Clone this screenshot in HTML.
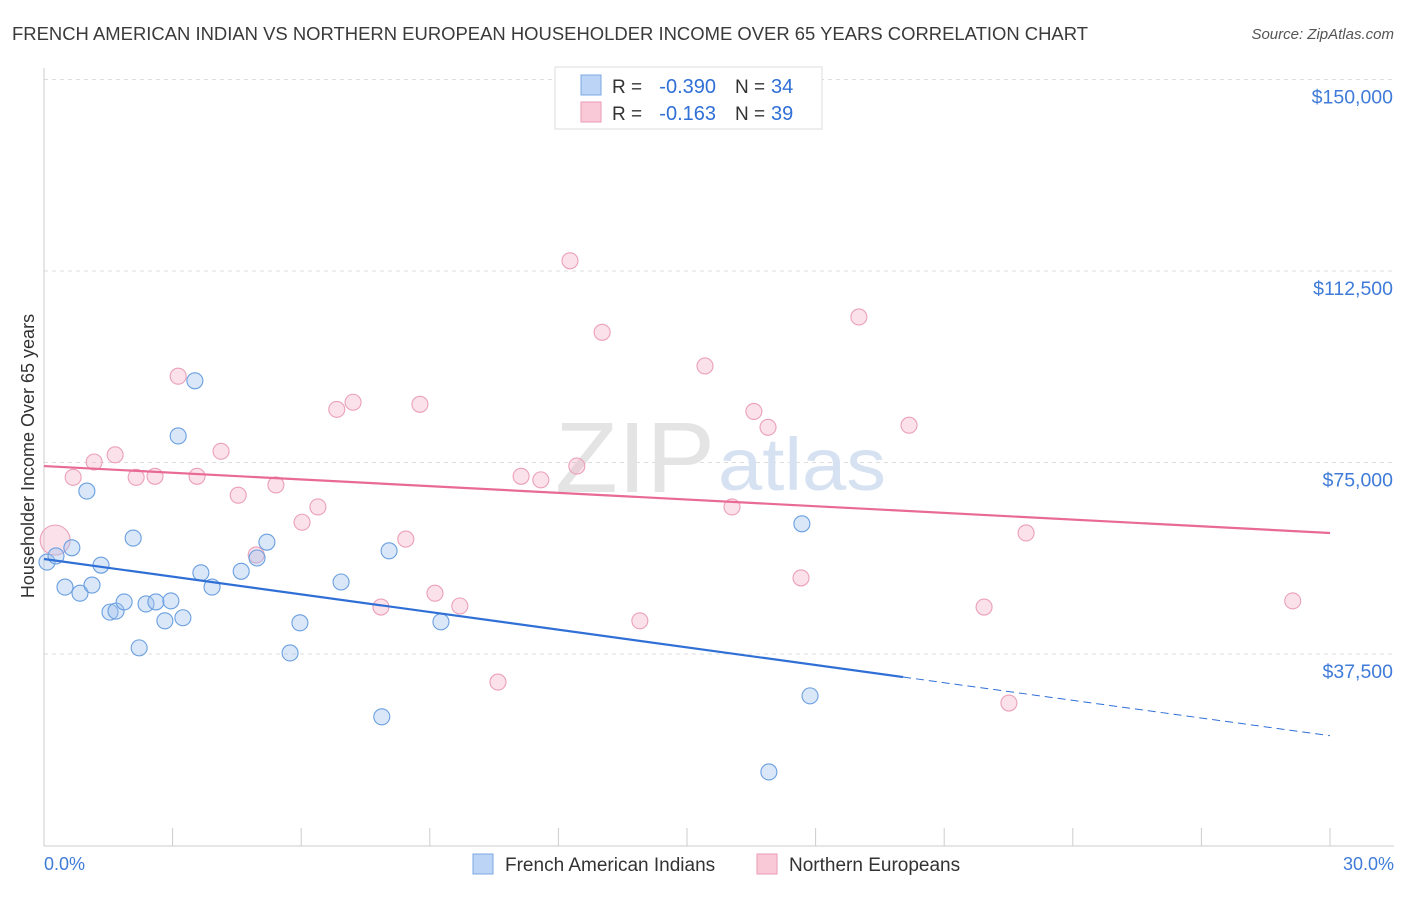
<!DOCTYPE html>
<html><head><meta charset="utf-8"><style>
body{margin:0;background:#fff;font-family:"Liberation Sans",sans-serif;}
svg text{font-family:"Liberation Sans",sans-serif;}
</style></head><body>
<svg width="1406" height="892" xmlns="http://www.w3.org/2000/svg">
<text x="12" y="40" font-size="18" textLength="1076" lengthAdjust="spacingAndGlyphs" fill="#3a3a3a">FRENCH AMERICAN INDIAN VS NORTHERN EUROPEAN HOUSEHOLDER INCOME OVER 65 YEARS CORRELATION CHART</text>
<text x="1394" y="39" font-size="15" fill="#555" font-style="italic" text-anchor="end">Source: ZipAtlas.com</text>
<g id="grid"></g>
<g id="axes"></g>
<text x="555" y="492" font-size="100" textLength="160" lengthAdjust="spacingAndGlyphs" fill="#e4e4e4" font-family="Liberation Serif">ZIP</text>
<text x="718" y="490" font-size="74" textLength="168" lengthAdjust="spacingAndGlyphs" fill="#d6e2f2">atlas</text>
<g id="pts"></g>
<g id="trend"></g>
<text transform="translate(34,456) rotate(-90)" font-size="18" fill="#333" text-anchor="middle">Householder Income Over 65 years</text>
<text x="44" y="870" font-size="18" fill="#3f7bd8">0.0%</text>
<text x="1394" y="870" font-size="18" fill="#3f7bd8" text-anchor="end">30.0%</text>
<g>
<rect x="555" y="67" width="267" height="62" fill="#fff" stroke="#ddd"/>
<rect x="581" y="75" width="20" height="20" fill="#bcd4f5" stroke="#7aa7e3"/>
<rect x="581" y="102" width="20" height="20" fill="#f9c9d8" stroke="#eb9ab5"/>
<text x="612" y="93" font-size="19" fill="#333">R =</text>
<text x="716" y="93" font-size="20" fill="#2f6fd6" text-anchor="end">-0.390</text>
<text x="735" y="93" font-size="19" fill="#333">N =</text>
<text x="771" y="93" font-size="20" fill="#2f6fd6">34</text>
<text x="612" y="120" font-size="19" fill="#333">R =</text>
<text x="716" y="120" font-size="20" fill="#2f6fd6" text-anchor="end">-0.163</text>
<text x="735" y="120" font-size="19" fill="#333">N =</text>
<text x="771" y="120" font-size="20" fill="#2f6fd6">39</text>
</g>
<g>
<rect x="473" y="854" width="20" height="20" fill="#bcd4f5" stroke="#7aa7e3"/>
<text x="505" y="871" font-size="19" fill="#333">French American Indians</text>
<rect x="757" y="854" width="20" height="20" fill="#f9c9d8" stroke="#eb9ab5"/>
<text x="789" y="871" font-size="19" fill="#333">Northern Europeans</text>
</g>
</svg>
<script>
const yTicks=[37500,75000,112500,150000];
const yTickLabels=["$37,500","$75,000","$112,500","$150,000"];
const blueX=[0.07,0.28,0.65,0.49,0.84,1.12,1.0,1.33,1.54,1.68,1.87,2.08,2.22,2.38,2.61,2.82,2.96,3.24,3.13,3.52,3.66,3.92,4.6,4.97,5.2,5.74,5.97,6.93,7.88,8.05,9.26,16.91,17.68,17.87];
const blueY=[55.5,56.7,58.3,50.6,49.4,51.0,69.4,54.9,45.7,45.9,47.7,60.2,38.7,47.3,47.7,44.0,47.9,44.6,80.2,91.0,53.4,50.6,53.7,56.3,59.4,37.7,43.6,51.6,25.2,57.7,43.8,14.4,63.0,29.3];
const pinkX=[0.26,0.68,1.17,1.66,2.15,2.59,3.13,3.57,4.13,4.53,4.95,5.41,6.02,6.39,6.83,7.21,7.86,8.44,8.77,9.12,9.7,10.59,11.13,11.59,12.27,12.43,13.02,13.9,15.42,16.05,16.56,16.89,17.66,19.01,20.18,21.93,22.51,22.91,29.13];
const pinkY=[59.8,72.1,75.1,76.5,72.1,72.3,91.9,72.3,77.2,68.6,56.9,70.6,63.3,66.3,85.4,86.8,46.7,60.0,86.4,49.4,46.9,32.0,72.3,71.6,114.5,74.3,100.5,44.0,93.9,66.3,85.0,81.9,52.4,103.5,82.3,46.7,27.9,61.2,47.9];
const blueTrend=[56.1,21.5], blueSolidEnd=20.04;
const pinkTrend=[74.3,61.2];
const NS="http://www.w3.org/2000/svg";
const X=p=>44+p*(1286/30);
const Y=v=>845.5-v*(191.5/37500);
const Yk=v=>Y(v*1000);
function mk(tag,at,parent){const e=document.createElementNS(NS,tag);for(const k in at)e.setAttribute(k,at[k]);document.getElementById(parent).appendChild(e);return e;}
yTicks.forEach((t,i)=>{
 const l=mk('line',{x1:44,x2:1394,y1:Y(t),y2:Y(t),stroke:'#ddd','stroke-dasharray':'4,4'},'grid');
 
 
 const tx=mk('text',{x:1393,y:Y(t)+24,'font-size':19.5,fill:'#3f7bd8','text-anchor':'end'},'grid');
 tx.textContent=yTickLabels[i];
 
 
});
let a=mk('line',{x1:44,x2:44,y1:68,y2:846,stroke:'#ccc'},'axes');


a=mk('line',{x1:44,x2:1394,y1:846,y2:846,stroke:'#ccc'},'axes');


for(let i=0;i<=10;i++){const t=mk('line',{x1:X(i*3),x2:X(i*3),y1:828,y2:846,stroke:'#ccc'},'axes');
 
 }
pinkX.forEach((x,i)=>{const c=mk('circle',{cx:X(x),cy:Yk(pinkY[i]),r:i===0?15:8,fill:'rgba(244,170,195,0.35)',stroke:'#eba0b8','stroke-width':1.1},'pts');
 
 });
blueX.forEach((x,i)=>{const c=mk('circle',{cx:X(x),cy:Yk(blueY[i]),r:8,fill:'rgba(160,195,240,0.4)',stroke:'#6a9fe0','stroke-width':1.1},'pts');
 
 });
const bAt=p=>blueTrend[0]+(blueTrend[1]-blueTrend[0])*p/30;
let t=mk('line',{x1:X(0),y1:Yk(pinkTrend[0]),x2:X(30),y2:Yk(pinkTrend[1]),stroke:'#e86a95','stroke-width':2.2},'trend');


t=mk('line',{x1:X(0),y1:Yk(bAt(0)),x2:X(blueSolidEnd),y2:Yk(bAt(blueSolidEnd)),stroke:'#2f6fd6','stroke-width':2.2},'trend');


t=mk('line',{x1:X(blueSolidEnd),y1:Yk(bAt(blueSolidEnd)),x2:X(30),y2:Yk(bAt(30)),stroke:'#2f6fd6','stroke-width':1,'stroke-dasharray':'8,5'},'trend');


</script>
</body></html>
